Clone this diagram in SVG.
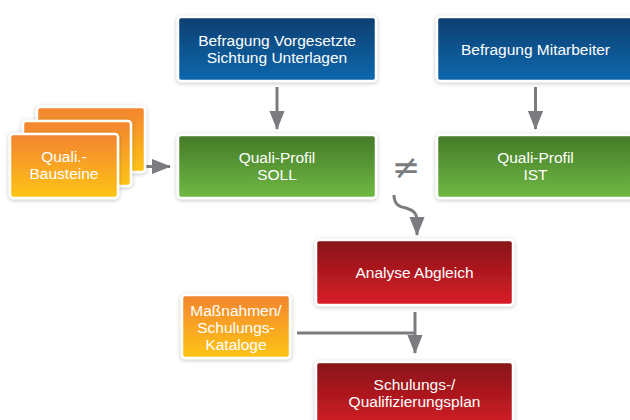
<svg xmlns="http://www.w3.org/2000/svg" width="630" height="420" viewBox="0 0 630 420">
<defs>
<linearGradient id="gBlue" x1="0" y1="0" x2="0" y2="1"><stop offset="0" stop-color="#073f70"/><stop offset="1" stop-color="#0d68ae"/></linearGradient>
<linearGradient id="gGreen" x1="0" y1="0" x2="0" y2="1"><stop offset="0" stop-color="#447a27"/><stop offset="1" stop-color="#70b944"/></linearGradient>
<linearGradient id="gRed" x1="0" y1="0" x2="0" y2="1"><stop offset="0" stop-color="#861318"/><stop offset="1" stop-color="#d91f27"/></linearGradient>
<linearGradient id="gOrange" x1="0" y1="0" x2="0" y2="1"><stop offset="0" stop-color="#f38430"/><stop offset="1" stop-color="#fec516"/></linearGradient>
<filter id="sh" x="-10%" y="-10%" width="120%" height="130%"><feDropShadow dx="0" dy="1" stdDeviation="2" flood-color="#000" flood-opacity="0.25"/></filter>
<marker id="ah" viewBox="0 0 20 16" refX="19" refY="8" markerWidth="6.4" markerHeight="5.2" orient="auto" markerUnits="strokeWidth"><path d="M0,0 L20,8 L0,16 z" fill="#7b7c80"/></marker>
</defs>
<style>
.box{stroke:#fff;stroke-width:2.5;filter:url(#sh)}
.t{font-family:"Liberation Sans",Arial,sans-serif;font-size:15.5px;fill:#fff;text-anchor:middle}
.c{fill:none;stroke:#7b7c80;stroke-width:3}
</style>
<rect width="630" height="420" fill="#fff"/>
<g id="connectors">
<path class="c" d="M277,87 V129" marker-end="url(#ah)"/>
<path class="c" d="M535.5,87 V129" marker-end="url(#ah)"/>
<path class="c" d="M128,166.5 H170" marker-end="url(#ah)"/>
<path class="c" d="M394,195 C394,205 400,207 406,208 C413,210 417,213 417,220 V235" marker-end="url(#ah)"/>
<path class="c" d="M415,312 V353" marker-end="url(#ah)"/>
<path class="c" d="M297,333 H415"/>
</g>
<g id="n-vorgesetzte">
<rect class="box" x="178" y="17" width="198" height="64" rx="3" fill="url(#gBlue)"/>
<text class="t" x="277" y="46">Befragung Vorgesetzte</text>
<text class="t" x="277" y="63">Sichtung Unterlagen</text>
</g>
<g id="n-mitarbeiter">
<rect class="box" x="437" y="17" width="198" height="64" rx="3" fill="url(#gBlue)"/>
<text class="t" x="535.5" y="55">Befragung Mitarbeiter</text>
</g>
<g id="n-bausteine">
<rect class="box" x="37" y="107" width="108" height="65" rx="3" fill="url(#gOrange)"/>
<rect class="box" x="23" y="121" width="108" height="65" rx="3" fill="url(#gOrange)"/>
<rect class="box" x="10" y="134" width="108" height="64" rx="3" fill="url(#gOrange)"/>
<text class="t" x="64" y="162">Quali.-</text>
<text class="t" x="64" y="179">Bausteine</text>
</g>
<g id="n-soll">
<rect class="box" x="178" y="135" width="198" height="63" rx="3" fill="url(#gGreen)"/>
<text class="t" x="277" y="163">Quali-Profil</text>
<text class="t" x="277" y="180">SOLL</text>
</g>
<g id="n-ne">
<text x="406" y="179" font-family="'DejaVu Sans',sans-serif" font-size="34" fill="#7b7c80" text-anchor="middle">≠</text>
</g>
<g id="n-ist">
<rect class="box" x="437" y="135" width="198" height="63" rx="3" fill="url(#gGreen)"/>
<text class="t" x="535.5" y="163">Quali-Profil</text>
<text class="t" x="535.5" y="180">IST</text>
</g>
<g id="n-analyse">
<rect class="box" x="316" y="240" width="197" height="65" rx="3" fill="url(#gRed)"/>
<text class="t" x="414.5" y="278">Analyse Abgleich</text>
</g>
<g id="n-massnahmen">
<rect class="box" x="182" y="295" width="108" height="63" rx="3" fill="url(#gOrange)"/>
<text class="t" x="236" y="316">Maßnahmen/</text>
<text class="t" x="236" y="333">Schulungs-</text>
<text class="t" x="236" y="350">Kataloge</text>
</g>
<g id="n-plan">
<rect class="box" x="316" y="362" width="197" height="70" rx="3" fill="url(#gRed)"/>
<text class="t" x="414.5" y="390">Schulungs-/</text>
<text class="t" x="414.5" y="407">Qualifizierungsplan</text>
</g>
</svg>
